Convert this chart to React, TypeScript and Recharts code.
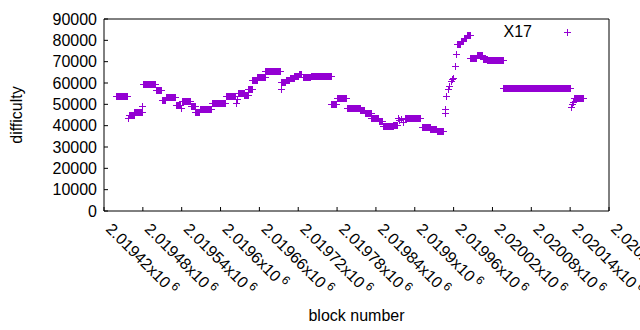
import React from 'react';
import { ScatterChart, Scatter, XAxis, YAxis, Legend } from 'recharts';

// runs of blocks that share one difficulty value (single blocks have start === end)
const runStart = [
  2019439, 2019457, 2019458, 2019467, 2019479, 2019481, 2019500, 2019509, 2019515, 2019531,
  2019539, 2019540, 2019554, 2019561, 2019568, 2019587, 2019608, 2019624, 2019625, 2019627,
  2019637, 2019643, 2019649, 2019657, 2019669, 2019693, 2019694, 2019701, 2019707, 2019714,
  2019721, 2019727, 2019740, 2019771, 2019780, 2019795, 2019816, 2019823, 2019833, 2019844,
  2019851, 2019867, 2019874, 2019876, 2019879, 2019882, 2019885, 2019911, 2019924, 2019934,
  2019946, 2019947, 2019949, 2019952, 2019953, 2019956, 2019957, 2019959, 2019962, 2019964,
  2019966, 2019971, 2019976, 2019980, 2019986, 2019996, 2020005, 2020012, 2020037, 2020142,
  2020143, 2020145, 2020146,
];
const runEnd = [
  2019456, 2019457, 2019466, 2019478, 2019479, 2019499, 2019508, 2019514, 2019530, 2019538,
  2019539, 2019553, 2019560, 2019567, 2019586, 2019607, 2019623, 2019624, 2019625, 2019636,
  2019642, 2019648, 2019656, 2019668, 2019692, 2019693, 2019700, 2019706, 2019713, 2019720,
  2019725, 2019738, 2019770, 2019779, 2019794, 2019815, 2019822, 2019832, 2019843, 2019850,
  2019866, 2019872, 2019874, 2019876, 2019879, 2019882, 2019908, 2019923, 2019933, 2019944,
  2019946, 2019947, 2019949, 2019952, 2019953, 2019956, 2019957, 2019959, 2019962, 2019964,
  2019970, 2019975, 2019979, 2019985, 2019995, 2020004, 2020011, 2020036, 2020140, 2020142,
  2020143, 2020145, 2020160,
];
const runDifficulty = [
  54000, 43500, 45200, 46300, 49000, 59500, 56700, 52000, 53300, 49700,
  48300, 51500, 49000, 46400, 47800, 50600, 53900, 50500, 52500, 55500,
  54400, 57000, 61500, 63000, 65600, 57200, 60500, 61500, 62500, 63500,
  64200, 62600, 63300, 50200, 52900, 48300, 47300, 46000, 43800, 42000,
  39800, 40300, 43700, 42500, 43000, 41600, 43400, 39500, 38400, 37500,
  46100, 47700, 53800, 57000, 58500, 60800, 61800, 62500, 68000, 73700,
  78200, 79800, 81000, 82500, 71900, 73100, 71300, 70600, 57800, 48800,
  50000, 51300, 53000,
];

const blockTicks = [
  2019420, 2019480, 2019540, 2019600, 2019660, 2019720, 2019780,
  2019840, 2019900, 2019960, 2020020, 2020080, 2020140, 2020200,
];
const difficultyTicks = [0, 10000, 20000, 30000, 40000, 50000, 60000, 70000, 80000, 90000];

const seriesName = 'X17';
const purple = '#9400d3';
const font = '"Liberation Sans", Arial, sans-serif';

const points: { block: number; difficulty: number }[] = [];
runStart.forEach((start, i) => {
  for (let b = start; b <= runEnd[i]; b++) points.push({ block: b, difficulty: runDifficulty[i] });
});

const Plus = (props: any) => {
  const x = Math.round(props.cx);
  const y = Math.round(props.cy);
  return (
    <path
      d={`M${x - 3} ${y + 0.5}H${x + 4}M${x + 0.5} ${y - 3}V${y + 4}`}
      stroke={purple}
      strokeWidth={1}
      fill="none"
    />
  );
};

const BlockTick = ({ x, y, payload }: any) => {
  const mantissa = String(parseFloat((payload.value / 1e6).toFixed(5)));
  const ax = x + 1;
  return (
    <text x={ax} y={y} transform={`rotate(45 ${ax} ${y})`} fontSize={16} fontFamily={font} fill="#000">
      {mantissa}x10
      <tspan fontSize={12} dx={3} dy={-6}>6</tspan>
    </text>
  );
};

const DifficultyTick = ({ x, y, payload }: any) => (
  <text x={x} y={y} dy={5.5} textAnchor="end" fontSize={16} fontFamily={font} fill="#000">
    {payload.value}
  </text>
);

const YLabel = () => (
  <text x={22} y={115} transform="rotate(-90 22 115)" textAnchor="middle" fontSize={16} fontFamily={font} fill="#000">
    difficulty
  </text>
);

const LegendBox = ({ payload }: any) => (
  <svg width={110} height={22} style={{ display: 'block' }}>
    <text x={52} y={15} textAnchor="end" fontSize={16} fontFamily={font} fill="#000">
      {payload && payload[0] ? payload[0].value : seriesName}
    </text>
    <path d="M84 10.5H91M87.5 7V14" stroke={purple} strokeWidth={1} fill="none" />
  </svg>
);

const App = () => {
  return (
    <div style={{ position: 'absolute', left: 0, top: 0 }}>
      <ScatterChart width={640} height={330} margin={{ top: 18, right: 30, bottom: 0, left: 0 }}>
        <XAxis
          dataKey="block"
          type="number"
          domain={[2019420, 2020200]}
          ticks={blockTicks}
          interval={0}
          allowDataOverflow
          height={119}
          tickSize={-4}
          tickMargin={23}
          stroke="#000"
          tick={<BlockTick />}
          label={{ value: 'block number', position: 'insideBottom', offset: 9, fontSize: 16, fontFamily: font, fill: '#000' }}
        />
        <XAxis
          xAxisId="top"
          orientation="top"
          type="number"
          domain={[2019420, 2020200]}
          ticks={blockTicks}
          interval={0}
          allowDataOverflow
          height={1}
          tickSize={-4}
          stroke="#000"
          tick={false}
        />
        <YAxis
          dataKey="difficulty"
          type="number"
          domain={[0, 90000]}
          ticks={difficultyTicks}
          interval={0}
          allowDataOverflow
          width={104}
          tickSize={-4}
          tickMargin={11}
          stroke="#000"
          tick={<DifficultyTick />}
          label={<YLabel />}
        />
        <YAxis
          yAxisId="right"
          orientation="right"
          type="number"
          domain={[0, 90000]}
          ticks={difficultyTicks}
          interval={0}
          allowDataOverflow
          width={1}
          tickSize={-4}
          stroke="#000"
          tick={false}
        />
        <Legend
          layout="vertical"
          align="center"
          verticalAlign="middle"
          content={<LegendBox />}
          wrapperStyle={{ position: 'absolute', left: 480, top: 22, width: 110 }}
        />
        <Scatter name={seriesName} data={points} fill={purple} shape={<Plus />} isAnimationActive={false} />
      </ScatterChart>
    </div>
  );
};

export default App;
